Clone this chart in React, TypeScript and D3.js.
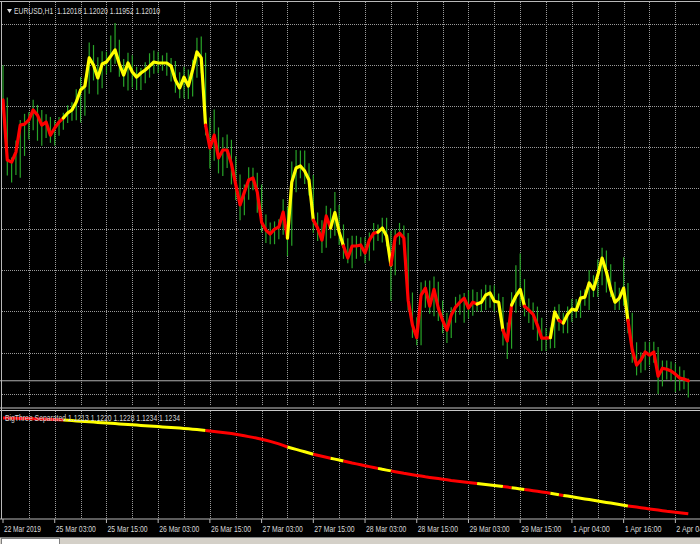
import React from "react";
import * as d3 from "d3";

// ---- data ----
const symbolLabel = "EURUSD,H1";
const lastOHLC = ["1.12018", "1.12020", "1.11952", "1.12010"];
const indicatorName = "BigThree Separated";
const indicatorValues = ["1.1213", "1.1220", "1.1228", "1.1234", "1.1234"];

const timeLabels = [
  "22 Mar 2019", "25 Mar 03:00", "25 Mar 15:00", "26 Mar 03:00", "26 Mar 15:00",
  "27 Mar 03:00", "27 Mar 15:00", "28 Mar 03:00", "28 Mar 15:00", "29 Mar 03:00",
  "29 Mar 15:00", "1 Apr 04:00", "1 Apr 16:00", "2 Apr 04:00",
];

const closes = [
  1.13104, 1.1287, 1.12862, 1.12901, 1.13006, 1.1301, 1.13026, 1.13065, 1.13045, 1.13006,
  1.13018, 1.12967, 1.12995, 1.13018, 1.13034, 1.13053, 1.13065, 1.13096, 1.13143, 1.13158,
  1.13268, 1.1324, 1.1319, 1.13244, 1.13252, 1.13275, 1.13299, 1.13244, 1.13201, 1.13248,
  1.13213, 1.13193, 1.13209, 1.13221, 1.13236, 1.13252, 1.13248, 1.13248, 1.13248, 1.13236,
  1.13182, 1.13151, 1.13193, 1.13158, 1.13221, 1.13291, 1.13268, 1.13006, 1.12917, 1.12967,
  1.12878, 1.12909, 1.12909, 1.12855, 1.12774, 1.12695, 1.12745, 1.12792, 1.128, 1.12745,
  1.12628, 1.12597, 1.12582, 1.12601, 1.12609, 1.12667, 1.12566, 1.12784, 1.12839, 1.12847,
  1.12827, 1.12792, 1.12636, 1.12605, 1.12558, 1.12652, 1.12605, 1.12665, 1.12589, 1.12535,
  1.12488, 1.12535, 1.12535, 1.12539, 1.12508, 1.12558, 1.12585, 1.12589, 1.12605, 1.12574,
  1.12461, 1.1257, 1.12585, 1.12566, 1.12324, 1.12227, 1.12178, 1.12344, 1.12371, 1.12301,
  1.12366, 1.12293, 1.12245, 1.12207, 1.12266, 1.12297, 1.12316, 1.12332, 1.12293, 1.12316,
  1.12309, 1.12316, 1.12344, 1.12352, 1.1232, 1.12316, 1.12207, 1.12165, 1.12305, 1.1234,
  1.12366, 1.12301, 1.12285, 1.12269, 1.12226, 1.12176, 1.12176, 1.12178, 1.12278, 1.12245,
  1.12235, 1.12269, 1.12289, 1.12285, 1.12332, 1.12336, 1.12391, 1.12366, 1.12422, 1.12488,
  1.12434, 1.12366, 1.12316, 1.12332, 1.12371, 1.12245, 1.1213, 1.12071, 1.12091, 1.12122,
  1.1211, 1.12122, 1.12028, 1.12059, 1.12055, 1.12048, 1.12036, 1.12021, 1.12017, 1.1201,
];

// upper / lower wick beyond the bar body, in pips
const wickUp = [
  13.5, 1, 1, 4.5, 2, 4, 3, 4, 2, 2, 3, 2, 3, 2, 2, 3, 3, 5, 5, 3,
  6, 5, 3, 5, 4, 8, 10.5, 4, 2, 4, 3, 2, 2, 3, 5, 4.5, 4, 3, 4, 2,
  2, 3, 4, 3, 4, 5.5, 6, 2, 3, 10, 3, 5, 6, 4, 3, 4, 3, 5, 4, 2,
  3, 3, 3, 3, 3, 5, 2, 8, 7, 6, 6, 3, 2, 3, 3, 4, 3, 8, 3, 3,
  3, 4, 4, 3, 3, 3, 4, 3, 4, 4, 2, 3, 4, 3, 2, 3, 3, 5, 3, 3,
  5, 3, 3, 3, 3, 4, 3, 2, 3, 5, 4, 5, 4, 3, 3, 3, 2, 3, 5, 12,
  14, 4, 3, 3, 3, 3, 4, 4, 2, 3, 3, 3, 4, 4, 3, 3, 5, 3, 6, 4,
  3, 3, 3, 4, 12, 2, 3, 3, 3, 4, 4, 4, 2, 3, 3, 3, 3, 3, 3, 0.2,
];
const wickDown = [
  1.5, 6, 8, 5, 10, 12, 6, 4, 10, 8, 5, 3, 4, 3, 3, 2, 3, 4, 8, 10,
  3, 6, 6.5, 4, 4, 4, 3, 5, 4.5, 6, 6, 5, 5, 4, 3, 3, 4, 3, 5, 6,
  5, 4, 4, 5, 4, 3, 6, 4, 8, 5, 6, 7, 7, 8, 6, 6, 4, 3, 4, 8,
  4, 5, 4, 4, 4, 3, 7, 3, 4, 4, 5, 6, 5, 5, 5, 3, 4, 3, 5, 5,
  2, 4, 5, 4, 4, 3, 4, 3, 4, 4, 14, 4, 3, 4, 4, 5, 3, 3, 5, 3,
  4, 5, 5, 5, 3, 3, 3, 8, 4, 3, 3, 3, 3, 5, 4, 4, 6, 7, 3, 3,
  4, 4, 5, 6, 6, 5, 5, 4, 4, 4, 4, 4, 3, 3, 3, 3, 5, 3, 3, 4,
  8, 3, 3, 3, 3, 5, 5, 4, 3, 4, 4, 3, 7, 4, 4, 4, 7, 5, 4, 6.5,
];

const bigThree = [
  1.1309, 1.13089, 1.13088, 1.13087, 1.13086, 1.13085, 1.13084, 1.13083, 1.13081, 1.1308,
  1.13078, 1.13076, 1.13074, 1.13072, 1.1307, 1.13067, 1.13064, 1.13061, 1.13058, 1.13055,
  1.13052, 1.13049, 1.13046, 1.13043, 1.1304, 1.13037, 1.13034, 1.13031, 1.13028, 1.13025,
  1.13022, 1.13019, 1.13016, 1.13013, 1.1301, 1.13007, 1.13004, 1.13001, 1.12998, 1.12995,
  1.12992, 1.12989, 1.12986, 1.12982, 1.12978, 1.12974, 1.1297, 1.12965, 1.1296, 1.12955,
  1.1295, 1.12945, 1.1294, 1.12934, 1.12927, 1.1292, 1.12912, 1.12904, 1.12896, 1.12888,
  1.12878, 1.12867, 1.12856, 1.12844, 1.12831, 1.12816, 1.128, 1.12788, 1.12776, 1.12764,
  1.12752, 1.1274, 1.12728, 1.12718, 1.12708, 1.12698, 1.12688, 1.12679, 1.1267, 1.1266,
  1.1265, 1.1264, 1.12631, 1.12622, 1.12613, 1.12604, 1.12595, 1.12586, 1.12577, 1.12569,
  1.12561, 1.12553, 1.12545, 1.12537, 1.1253, 1.12523, 1.12516, 1.12509, 1.12502, 1.12496,
  1.1249, 1.12484, 1.12478, 1.12472, 1.12466, 1.12461, 1.12456, 1.12451, 1.12446, 1.12441,
  1.12436, 1.12431, 1.12426, 1.12421, 1.12416, 1.12411, 1.12405, 1.12399, 1.12393, 1.12387,
  1.12381, 1.12375, 1.12369, 1.12363, 1.12357, 1.12351, 1.12344, 1.12337, 1.1233, 1.12323,
  1.12316, 1.12309, 1.12302, 1.12295, 1.12288, 1.12281, 1.12274, 1.12267, 1.1226, 1.12253,
  1.12246, 1.12239, 1.12232, 1.12225, 1.12218, 1.12211, 1.12205, 1.12199, 1.12193, 1.12187,
  1.12181, 1.12175, 1.12169, 1.12163, 1.12157, 1.12152, 1.12147, 1.12142, 1.12137, 1.12132,
];

// trend runs (bar index ranges) shared by the price line and the indicator
const trendRuns = [
  { from: 0, to: 14, dir: "down" },
  { from: 14, to: 47, dir: "up" },
  { from: 47, to: 66, dir: "down" },
  { from: 66, to: 72, dir: "up" },
  { from: 72, to: 76, dir: "down" },
  { from: 76, to: 79, dir: "up" },
  { from: 79, to: 87, dir: "down" },
  { from: 87, to: 90, dir: "up" },
  { from: 90, to: 110, dir: "down" },
  { from: 110, to: 116, dir: "up" },
  { from: 116, to: 118, dir: "down" },
  { from: 118, to: 121, dir: "up" },
  { from: 121, to: 127, dir: "down" },
  { from: 127, to: 129, dir: "up" },
  { from: 129, to: 130, dir: "down" },
  { from: 130, to: 145, dir: "up" },
  { from: 145, to: 159, dir: "down" },
];

const priceGrid = [1.134, 1.1324, 1.1308, 1.1292, 1.1276, 1.126, 1.1244, 1.1228, 1.1212, 1.1196];

// ---- layout / style ----
const W = 700;
const H = 544;
const BAR_STEP = 4.31;
const X0 = 3;
const MAIN_TOP = 2;
const MAIN_BOTTOM = 406;
const SUB_TOP = 411;
const SUB_BOTTOM = 518.5;
const COLORS = { up: "#ffff00", down: "#ff0000", bars: "#28a428", grid: "#9a9a9a", text: "#d8d8d8", frame: "#b8b8b8" };
const FONT = "'Liberation Sans', Arial, sans-serif";

export default function App() {
  const n = closes.length;
  const x = d3.scaleLinear().domain([0, n - 1]).range([X0, X0 + (n - 1) * BAR_STEP]);
  const y = d3.scaleLinear().domain([1.1196, 1.134]).range([393.6, 24]);
  const yi = d3.scaleLinear().domain([1.1213, 1.1309]).range([514, 418]);

  const bars = closes.map((c, i) => {
    const o = i === 0 ? c : closes[i - 1];
    return {
      i,
      high: Math.max(o, c) + wickUp[i] * 0.0001,
      low: Math.min(o, c) - wickDown[i] * 0.0001,
    };
  });

  const priceLine = d3.line<number>().x((i) => x(i)).y((i) => y(closes[i]));
  const indLine = d3.line<number>().x((i) => x(i)).y((i) => yi(bigThree[i]));

  const vGrid = d3.range(6, n + 3, 6).map((i) => x(i)).filter((v) => v < W);
  const labelIdx = timeLabels.map((_, k) => k * 12);
  const bid = closes[n - 1];

  const dotted = "1,1";

  return (
    <svg width={W} height={H} style={{ position: "absolute", left: 0, top: 0, background: "#000" }}>
      <defs>
        <clipPath id="mainClip">
          <rect x={2} y={MAIN_TOP} width={W - 2} height={MAIN_BOTTOM - MAIN_TOP} />
        </clipPath>
        <clipPath id="subClip">
          <rect x={2} y={SUB_TOP} width={W - 2} height={SUB_BOTTOM - SUB_TOP} />
        </clipPath>
      </defs>
      <rect x={0} y={0} width={W} height={H} fill="#000" />

      {/* grid main */}
      {priceGrid.map((p, k) => (
        <line key={"hg" + k} x1={2} x2={W} y1={Math.round(y(p)) + 0.5} y2={Math.round(y(p)) + 0.5} stroke={COLORS.grid} strokeDasharray={dotted} />
      ))}
      {vGrid.map((gx, k) => (
        <line key={"vg" + k} x1={Math.round(gx) + 0.5} x2={Math.round(gx) + 0.5} y1={MAIN_TOP} y2={MAIN_BOTTOM} stroke={COLORS.grid} strokeDasharray={dotted} />
      ))}
      {vGrid.map((gx, k) => (
        <line key={"vgs" + k} x1={Math.round(gx) + 0.5} x2={Math.round(gx) + 0.5} y1={SUB_TOP} y2={SUB_BOTTOM} stroke={COLORS.grid} strokeDasharray={dotted} />
      ))}

      {/* bid line */}
      <line x1={0} x2={W} y1={y(bid)} y2={y(bid)} stroke="#b0b0b0" strokeWidth={1} />

      {/* price bars */}
      <g clipPath="url(#mainClip)">
        {bars.map((b) => (
          <line key={"b" + b.i} x1={x(b.i)} x2={x(b.i)} y1={y(b.high)} y2={y(b.low)} stroke={COLORS.bars} strokeWidth={1.2} />
        ))}
        {trendRuns.map((r, k) => (
          <path
            key={"pl" + k}
            d={priceLine(d3.range(r.from, r.to + 1)) || ""}
            fill="none"
            stroke={r.dir === "up" ? COLORS.up : COLORS.down}
            strokeWidth={3.2}
            strokeLinejoin="round"
            strokeLinecap="round"
          />
        ))}
      </g>

      {/* header */}
      <path d="M7,9 L12,9 L9.5,13 Z" fill="#e0e0e0" />
      <text x={14} y={14} fill={COLORS.text} fontFamily={FONT} fontSize={9} textLength={146} lengthAdjust="spacingAndGlyphs">
        {symbolLabel + "\u00a0\u00a0" + lastOHLC.join(" ")}
      </text>

      {/* separator */}
      <line x1={0} x2={W} y1={408} y2={408} stroke="#c8c8c8" />
      <line x1={0} x2={W} y1={410.5} y2={410.5} stroke="#c8c8c8" />

      {/* indicator */}
      <g clipPath="url(#subClip)">
        {trendRuns.map((r, k) => (
          <path
            key={"il" + k}
            d={indLine(d3.range(r.from, r.to + 1)) || ""}
            fill="none"
            stroke={r.dir === "up" ? COLORS.up : COLORS.down}
            strokeWidth={3}
            strokeLinecap="butt"
          />
        ))}
      </g>
      <text x={5} y={421} fill={COLORS.text} fontFamily={FONT} fontSize={9} textLength={175} lengthAdjust="spacingAndGlyphs">
        {indicatorName + " " + indicatorValues.join(" ")}
      </text>

      {/* frame */}
      <line x1={0} x2={W} y1={1.5} y2={1.5} stroke={COLORS.frame} />
      <line x1={1.5} x2={1.5} y1={1} y2={519} stroke={COLORS.frame} />

      {/* time axis */}
      <line x1={0} x2={W} y1={519} y2={519} stroke={COLORS.frame} />
      {labelIdx.map((i, k) => (
        <g key={"t" + k}>
          <line x1={x(i)} x2={x(i)} y1={519} y2={523} stroke={COLORS.frame} />
          <text
            x={x(i) + 1}
            y={532}
            fill={COLORS.text}
            fontFamily={FONT}
            fontSize={9}
            textLength={timeLabels[k].length * 3.35}
            lengthAdjust="spacingAndGlyphs"
          >
            {timeLabels[k]}
          </text>
        </g>
      ))}

      {/* bottom tab strip */}
      <rect x={0} y={537} width={W} height={7} fill="#d4d0c8" />
      <line x1={0} x2={W} y1={537.5} y2={537.5} stroke="#808080" />
      <rect x={1.5} y={538.5} width={58} height={6} fill="#ffffff" stroke="#808080" />
    </svg>
  );
}
